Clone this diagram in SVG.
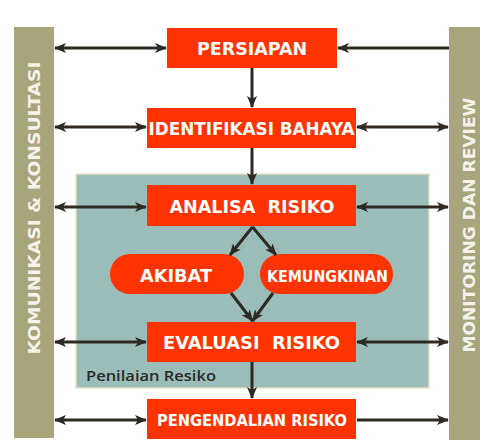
<svg xmlns="http://www.w3.org/2000/svg" width="480" height="444" viewBox="0 0 480 444">
<defs>
<style>
.box{fill:#ff3300;}
.bar{fill:#a8a47c;}
.t{font-family:"DejaVu Sans",Verdana,sans-serif;font-weight:bold;fill:#ffffff;text-anchor:middle;}
.bt{font-family:"DejaVu Sans",Verdana,sans-serif;font-weight:bold;fill:#f4f2ea;text-anchor:middle;font-size:15px;}
.c{stroke:#2e2a22;stroke-width:3;fill:none;}
</style>
<marker id="ah" viewBox="0 0 12 10" refX="11" refY="5" markerWidth="12" markerHeight="10" markerUnits="userSpaceOnUse" orient="auto-start-reverse">
<path d="M0,0 L12,5 L0,10 L3,5 Z" fill="#2e2a22"/>
</marker>
</defs>
<rect width="480" height="444" fill="#ffffff"/>
<g id="penilaian">
<rect x="76" y="174" width="353" height="214" fill="#9bbdba" stroke="#e6e2c8" stroke-width="1.5"/>
<text x="86" y="381" font-family="'Open Sans','Noto Sans',sans-serif" font-weight="600" font-size="15" fill="#2a2a26" textLength="130" lengthAdjust="spacingAndGlyphs">Penilaian Resiko</text>
</g>
<g id="komunikasi">
<rect class="bar" x="14" y="27" width="40" height="411"/>
<text class="bt" transform="translate(40,208) rotate(-90)" textLength="293" lengthAdjust="spacingAndGlyphs">KOMUNIKASI &amp; KONSULTASI</text>
</g>
<g id="monitoring">
<rect class="bar" x="449" y="27" width="31" height="413"/>
<text class="bt" transform="translate(475,225) rotate(-90)" textLength="255" lengthAdjust="spacingAndGlyphs">MONITORING DAN REVIEW</text>
</g>
<g id="persiapan">
<rect class="box" x="167" y="28" width="170" height="40"/>
<text class="t" x="252" y="55" font-size="17" textLength="110" lengthAdjust="spacingAndGlyphs">PERSIAPAN</text>
</g>
<g id="identifikasi">
<rect class="box" x="147" y="108" width="209" height="40"/>
<text class="t" x="251.5" y="135" font-size="17" textLength="206" lengthAdjust="spacingAndGlyphs">IDENTIFIKASI BAHAYA</text>
</g>
<g id="analisa">
<rect class="box" x="147" y="185" width="209" height="41"/>
<text class="t" x="252" y="213" font-size="18" textLength="165" lengthAdjust="spacingAndGlyphs" xml:space="preserve">ANALISA  RISIKO</text>
</g>
<g id="akibat">
<rect class="box" x="110" y="254" width="134" height="40" rx="20"/>
<text class="t" x="176" y="282" font-size="18" textLength="72" lengthAdjust="spacingAndGlyphs">AKIBAT</text>
</g>
<g id="kemungkinan">
<rect class="box" x="260" y="254" width="133" height="40" rx="20"/>
<text class="t" x="327.5" y="282" font-size="15" textLength="121" lengthAdjust="spacingAndGlyphs">KEMUNGKINAN</text>
</g>
<g id="evaluasi">
<rect class="box" x="147" y="322" width="209" height="40"/>
<text class="t" x="251.5" y="349" font-size="18" textLength="177" lengthAdjust="spacingAndGlyphs" xml:space="preserve">EVALUASI  RISIKO</text>
</g>
<g id="pengendalian">
<rect class="box" x="147" y="399" width="209" height="40"/>
<text class="t" x="252" y="426" font-size="16" textLength="190" lengthAdjust="spacingAndGlyphs">PENGENDALIAN RISIKO</text>
</g>
<g id="connectors" class="c">
<line x1="55" y1="48" x2="166" y2="48" marker-start="url(#ah)" marker-end="url(#ah)"/>
<line x1="55" y1="127" x2="146" y2="127" marker-start="url(#ah)" marker-end="url(#ah)"/>
<line x1="55" y1="207" x2="146" y2="207" marker-start="url(#ah)" marker-end="url(#ah)"/>
<line x1="55" y1="342" x2="146" y2="342" marker-start="url(#ah)" marker-end="url(#ah)"/>
<line x1="55" y1="420" x2="146" y2="420" marker-start="url(#ah)" marker-end="url(#ah)"/>
<line x1="449" y1="48" x2="338" y2="48" marker-end="url(#ah)"/>
<line x1="357" y1="127" x2="448" y2="127" marker-start="url(#ah)" marker-end="url(#ah)"/>
<line x1="357" y1="207" x2="448" y2="207" marker-start="url(#ah)" marker-end="url(#ah)"/>
<line x1="357" y1="342" x2="448" y2="342" marker-start="url(#ah)" marker-end="url(#ah)"/>
<line x1="357" y1="420" x2="448" y2="420" marker-end="url(#ah)"/>
<line x1="252" y1="68" x2="252" y2="107" marker-end="url(#ah)"/>
<line x1="252" y1="148" x2="252" y2="184" marker-end="url(#ah)"/>
<line x1="252" y1="362" x2="252" y2="398" marker-end="url(#ah)"/>
<line x1="252.5" y1="227" x2="230" y2="255" marker-end="url(#ah)"/>
<line x1="252.5" y1="227" x2="276" y2="255" marker-end="url(#ah)"/>
<line x1="231" y1="293" x2="252.5" y2="321" marker-end="url(#ah)"/>
<line x1="273" y1="293" x2="252.5" y2="321" marker-end="url(#ah)"/>
</g>
</svg>
